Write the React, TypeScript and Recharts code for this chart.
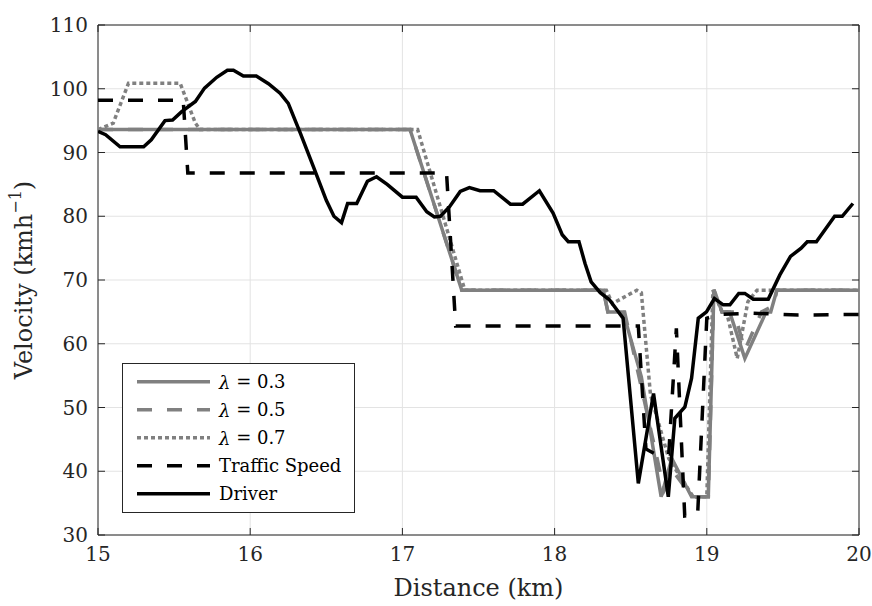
import React from "react";
import {
  LineChart,
  Line,
  XAxis,
  YAxis,
  CartesianGrid,
  ReferenceLine,
  ReferenceArea,
} from "recharts";

// distance (km), velocity (km/h) pairs
const lambda03: [number, number][] = [
  [15.0, 93.6], [17.05, 93.6], [17.39, 68.4], [18.32, 68.4], [18.35, 65.0],
  [18.45, 65.0], [18.57, 54.8], [18.7, 36.0], [18.77, 42.0], [18.9, 36.0],
  [19.01, 36.0], [19.047, 68.5], [19.1, 65.0], [19.15, 65.0], [19.25, 57.7],
  [19.39, 65.0], [19.42, 65.0], [19.46, 68.4], [20.0, 68.4],
];

const lambda05: [number, number][] = [
  [15.0, 93.6], [17.05, 93.6], [17.39, 68.4], [18.32, 68.4], [18.35, 65.0],
  [18.46, 65.0], [18.72, 37.0], [18.78, 40.0], [18.9, 36.0], [19.01, 36.0],
  [19.047, 68.4], [19.1, 65.0], [19.18, 65.0], [19.25, 59.0], [19.36, 65.0],
  [19.44, 66.0], [19.46, 68.4], [20.0, 68.4],
];

const lambda07: [number, number][] = [
  [15.0, 93.6], [15.1, 94.6], [15.2, 100.85], [15.54, 100.85], [15.64, 94.6],
  [15.67, 93.6], [17.1, 93.6], [17.41, 68.4], [18.34, 68.4], [18.38, 66.3],
  [18.54, 68.4], [18.57, 68.0], [18.63, 52.0], [18.75, 42.0], [18.91, 36.0],
  [19.0, 36.0], [19.04, 68.4], [19.1, 65.0], [19.13, 65.0], [19.2, 57.7],
  [19.27, 66.6], [19.33, 68.4], [20.0, 68.4],
];

const traffic: [number, number][] = [
  [15.0, 98.2], [15.56, 98.2], [15.59, 86.8], [17.29, 86.8], [17.35, 62.8],
  [18.55, 62.8], [18.6, 43.5], [18.66, 42.7], [18.75, 42.7], [18.8, 62.4],
  [18.855, 33.0], [18.94, 33.3], [19.0, 64.0], [19.08, 64.6], [19.3, 64.8],
  [19.6, 64.5], [20.0, 64.6],
];

const driver: [number, number][] = [
  [15.0, 93.3], [15.05, 92.8], [15.145, 90.9], [15.3, 90.9], [15.35, 92.0],
  [15.44, 95.0], [15.49, 95.1], [15.55, 96.4], [15.64, 98.0], [15.7, 100.1],
  [15.78, 101.8], [15.85, 102.9], [15.89, 102.9], [15.955, 102.0], [16.04, 102.0],
  [16.12, 100.8], [16.196, 99.3], [16.25, 97.7], [16.33, 93.0], [16.415, 87.8],
  [16.5, 82.5], [16.55, 80.0], [16.6, 79.0], [16.64, 82.0], [16.7, 82.0],
  [16.77, 85.5], [16.83, 86.2], [16.9, 85.0], [17.0, 83.0], [17.09, 83.0],
  [17.16, 80.7], [17.21, 79.9], [17.25, 80.0], [17.31, 81.5], [17.38, 83.9],
  [17.44, 84.5], [17.51, 84.0], [17.6, 84.0], [17.71, 81.9], [17.79, 81.9],
  [17.9, 84.0], [17.99, 80.5], [18.05, 77.1], [18.09, 76.0], [18.16, 76.0],
  [18.2, 72.6], [18.24, 69.7], [18.3, 68.0], [18.36, 66.9], [18.45, 64.0],
  [18.55, 38.1], [18.65, 52.2], [18.747, 36.0], [18.79, 48.3], [18.856, 50.1],
  [18.9, 54.6], [18.944, 64.0], [18.998, 65.0], [19.05, 67.1], [19.108, 66.1],
  [19.152, 66.1], [19.21, 67.9], [19.25, 67.9], [19.305, 67.0], [19.404, 67.0],
  [19.48, 70.8], [19.55, 73.7], [19.62, 75.0], [19.66, 76.0], [19.72, 76.0],
  [19.78, 78.0], [19.84, 80.0], [19.89, 80.0], [19.96, 82.0],
];

const xTicks = [15, 16, 17, 18, 19, 20];
const yTicks = [30, 40, 50, 60, 70, 80, 90, 100, 110];

const toPoints = (s: [number, number][]) => s.map(([x, y]) => ({ x, y }));

const FONT = "'DejaVu Serif', 'Liberation Serif', 'Noto Serif', serif";
const GRAY = "#808080";
const INK = "#262626";
const DASH = "15 15";
const DOT = "4 3";

const legendItems = [
  { label: "0.3", color: GRAY, dash: undefined, math: true },
  { label: "0.5", color: GRAY, dash: DASH, math: true },
  { label: "0.7", color: GRAY, dash: DOT, math: true },
  { label: "Traffic Speed", color: "#000", dash: DASH, math: false },
  { label: "Driver", color: "#000", dash: undefined, math: false },
];

const YLabel = (props: any) => {
  const vb = props.viewBox || { x: 0, y: 0, width: 98, height: 510 };
  const cx = vb.x + 24;
  const cy = vb.y + vb.height / 2;
  return (
    <text
      x={cx}
      y={cy}
      transform={`rotate(-90 ${cx} ${cy})`}
      textAnchor="middle"
      dominantBaseline="central"
      fill={INK}
      style={{ fontFamily: FONT, fontSize: 24 }}
    >
      Velocity (kmh
      <tspan dy={-9} fontSize={16}>−1</tspan>
      <tspan dy={9}>)</tspan>
    </text>
  );
};

export default function App() {
  const tx = 0.046;
  const ty = 1.1;
  return (
    <div style={{ position: "absolute", left: 0, top: 0, width: 872, height: 606, background: "#fff" }}>
      <LineChart
        width={872}
        height={606}
        margin={{ top: 25, right: 13, left: 0, bottom: 0 }}
      >
        <CartesianGrid stroke="#e3e3e3" strokeWidth={1} />
        <XAxis
          type="number"
          dataKey="x"
          domain={[15, 20]}
          ticks={xTicks}
          allowDataOverflow
          height={71}
          axisLine={false}
          tickLine={false}
          tickSize={0}
          tickMargin={12}
          tick={{ fill: INK, fontFamily: FONT, fontSize: 20 }}
          label={{
            value: "Distance (km)",
            position: "insideBottom",
            offset: 10,
            style: { fill: INK, fontFamily: FONT, fontSize: 24 },
          }}
        />
        <YAxis
          type="number"
          domain={[30, 110]}
          ticks={yTicks}
          allowDataOverflow
          width={98}
          axisLine={false}
          tickLine={false}
          tickSize={0}
          tickMargin={10}
          tick={{ fill: INK, fontFamily: FONT, fontSize: 20 }}
          label={<YLabel />}
        />
        <Line data={toPoints(lambda03)} dataKey="y" type="linear" stroke={GRAY} strokeWidth={3.5} dot={false} isAnimationActive={false} />
        <Line data={toPoints(lambda05)} dataKey="y" type="linear" stroke={GRAY} strokeWidth={3.5} strokeDasharray={DASH} dot={false} isAnimationActive={false} />
        <Line data={toPoints(lambda07)} dataKey="y" type="linear" stroke={GRAY} strokeWidth={3.5} strokeDasharray={DOT} dot={false} isAnimationActive={false} />
        <Line data={toPoints(traffic)} dataKey="y" type="linear" stroke="#000" strokeWidth={3.5} strokeDasharray={DASH} dot={false} isAnimationActive={false} />
        <Line data={toPoints(driver)} dataKey="y" type="linear" stroke="#000" strokeWidth={3.5} dot={false} isAnimationActive={false} />
        {xTicks.map((t) => (
          <ReferenceLine key={"b" + t} segment={[{ x: t, y: 30 }, { x: t, y: 30 + ty }]} stroke={INK} />
        ))}
        {xTicks.map((t) => (
          <ReferenceLine key={"t" + t} segment={[{ x: t, y: 110 }, { x: t, y: 110 - ty }]} stroke={INK} />
        ))}
        {yTicks.map((t) => (
          <ReferenceLine key={"l" + t} segment={[{ x: 15, y: t }, { x: 15 + tx, y: t }]} stroke={INK} />
        ))}
        {yTicks.map((t) => (
          <ReferenceLine key={"r" + t} segment={[{ x: 20, y: t }, { x: 20 - tx, y: t }]} stroke={INK} />
        ))}
        <ReferenceArea x1={15} x2={20} y1={30} y2={110} fill="none" stroke={INK} strokeWidth={1} />
      </LineChart>
      <svg
        width={233}
        height={150}
        style={{ position: "absolute", left: 122, top: 363 }}
      >
        <rect x={0.5} y={0.5} width={232} height={149} fill="#fff" stroke={INK} strokeWidth={1} />
        {legendItems.map((it, i) => {
          const cy = 18.7 + i * 28;
          return (
            <g key={it.label}>
              <line x1={15} x2={88} y1={cy} y2={cy} stroke={it.color} strokeWidth={3.5} strokeDasharray={it.dash} />
              <text x={97} y={cy} dominantBaseline="central" fill="#000" style={{ fontFamily: FONT, fontSize: 18 }}>
                {it.math ? (
                  <>
                    <tspan fontStyle="italic">λ</tspan>
                    {" = " + it.label}
                  </>
                ) : (
                  it.label
                )}
              </text>
            </g>
          );
        })}
      </svg>
    </div>
  );
}
